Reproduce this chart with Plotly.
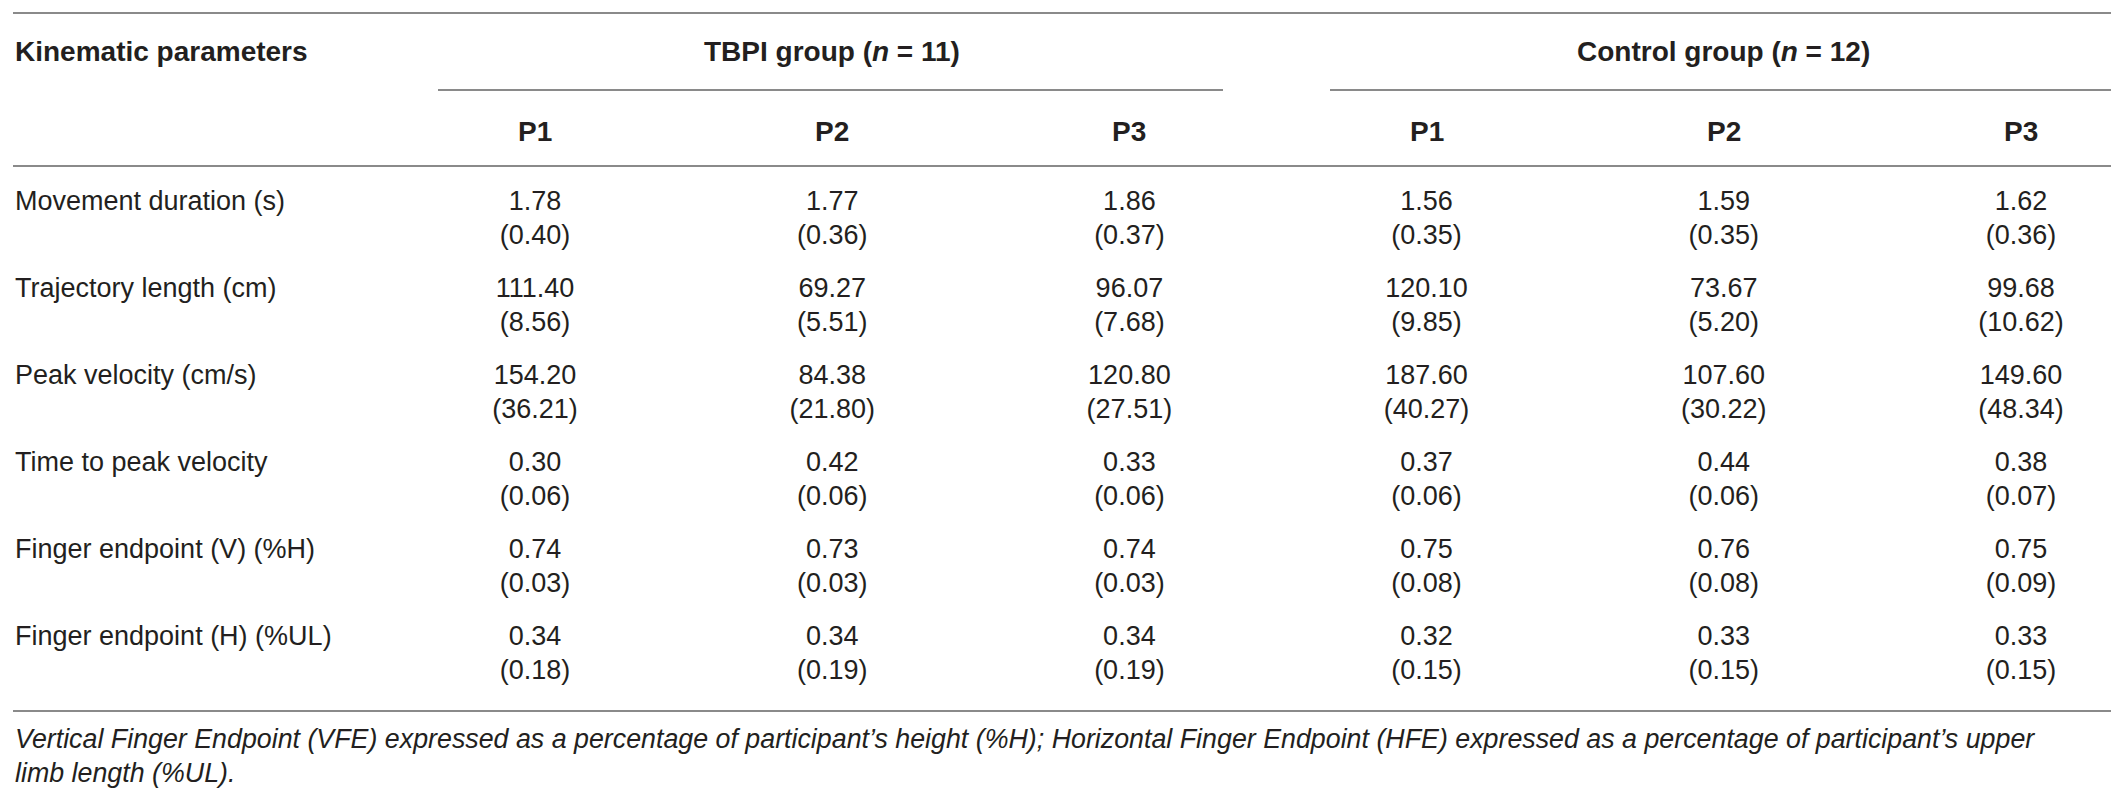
import plotly.graph_objects as go

# Table data
params = [
    "Movement duration (s)",
    "Trajectory length (cm)",
    "Peak velocity (cm/s)",
    "Time to peak velocity",
    "Finger endpoint (V) (%H)",
    "Finger endpoint (H) (%UL)",
]
periods = ["P1", "P2", "P3"]
groups = ["TBPI group (<i>n</i> = 11)", "Control group (<i>n</i> = 12)"]

tbpi_p1 = [1.78, 111.40, 154.20, 0.30, 0.74, 0.34]
tbpi_p1_sd = [0.40, 8.56, 36.21, 0.06, 0.03, 0.18]
tbpi_p2 = [1.77, 69.27, 84.38, 0.42, 0.73, 0.34]
tbpi_p2_sd = [0.36, 5.51, 21.80, 0.06, 0.03, 0.19]
tbpi_p3 = [1.86, 96.07, 120.80, 0.33, 0.74, 0.34]
tbpi_p3_sd = [0.37, 7.68, 27.51, 0.06, 0.03, 0.19]

ctrl_p1 = [1.56, 120.10, 187.60, 0.37, 0.75, 0.32]
ctrl_p1_sd = [0.35, 9.85, 40.27, 0.06, 0.08, 0.15]
ctrl_p2 = [1.59, 73.67, 107.60, 0.44, 0.76, 0.33]
ctrl_p2_sd = [0.35, 5.20, 30.22, 0.06, 0.08, 0.15]
ctrl_p3 = [1.62, 99.68, 149.60, 0.38, 0.75, 0.33]
ctrl_p3_sd = [0.36, 10.62, 48.34, 0.07, 0.09, 0.15]

footnote = [
    "Vertical Finger Endpoint (VFE) expressed as a percentage of participant’s height (%H); "
    "Horizontal Finger Endpoint (HFE) expressed as a percentage of participant’s upper",
    "limb length (%UL).",
]

means = [tbpi_p1, tbpi_p2, tbpi_p3, ctrl_p1, ctrl_p2, ctrl_p3]
sds = [tbpi_p1_sd, tbpi_p2_sd, tbpi_p3_sd, ctrl_p1_sd, ctrl_p2_sd, ctrl_p3_sd]

# layout in page pixels
W, H = 2119, 789
FONT = "Liberation Sans, Arial, Helvetica, sans-serif"
TXT = "#231f20"
LINE = "#8a8a8a"
SIZE = 27
HEAD = 28
NOTE = 26.8
col_x = [527 + 297.2 * i for i in range(6)]
row_y = [195 + 87 * i for i in range(len(params))]
sub_y = [y + 34 for y in row_y]

fig = go.Figure()

# row labels
fig.add_trace(go.Scatter(
    x=[7] * len(params), y=row_y, text=params, mode="text",
    textposition="middle right",
    textfont=dict(family=FONT, size=SIZE, color=TXT),
    hoverinfo="skip",
))

# values and (sd)
for i in range(6):
    fig.add_trace(go.Scatter(
        x=[col_x[i]] * len(params) * 2,
        y=row_y + sub_y,
        text=[f"{v:.2f}" for v in means[i]] + [f"({v:.2f})" for v in sds[i]],
        mode="text", textposition="middle center",
        textfont=dict(family=FONT, size=SIZE, color=TXT),
        hoverinfo="skip",
    ))

ann = []
ann.append(dict(x=5, y=43, text="<b>Kinematic parameters</b>", xanchor="left", size=HEAD))
for g in range(2):
    ann.append(dict(x=col_x[3 * g + 1], y=43, text=f"<b>{groups[g]}</b>", xanchor="center", size=HEAD))
    for k, p in enumerate(periods):
        ann.append(dict(x=col_x[3 * g + k], y=123, text=f"<b>{p}</b>", xanchor="center", size=HEAD))
ann.append(dict(x=5, y=731, text=f"<i>{footnote[0]}</i>", xanchor="left", size=NOTE))
ann.append(dict(x=5, y=765, text=f"<i>{footnote[1]}</i>", xanchor="left", size=NOTE))
for a in ann:
    sz = a.pop("size")
    a.update(xref="x", yref="y", yanchor="middle", showarrow=False,
             font=dict(family=FONT, size=sz, color=TXT))

shapes = []
for y in [5, 158, 703]:
    shapes.append(dict(type="line", x0=5, x1=2112, y0=y, y1=y))
shapes.append(dict(type="line", x0=430, x1=1215, y0=82, y1=82))
shapes.append(dict(type="line", x0=1322, x1=2112, y0=82, y1=82))
for s in shapes:
    s.update(xref="x", yref="y", line=dict(color=LINE, width=2))

fig.update_layout(
    width=W, height=H,
    margin=dict(l=0, r=0, t=0, b=0),
    paper_bgcolor="white", plot_bgcolor="white",
    showlegend=False,
    annotations=ann, shapes=shapes,
    xaxis=dict(range=[0, W], visible=False, fixedrange=True),
    yaxis=dict(range=[H, 0], visible=False, fixedrange=True),
)

fig.write_html("out.html")
